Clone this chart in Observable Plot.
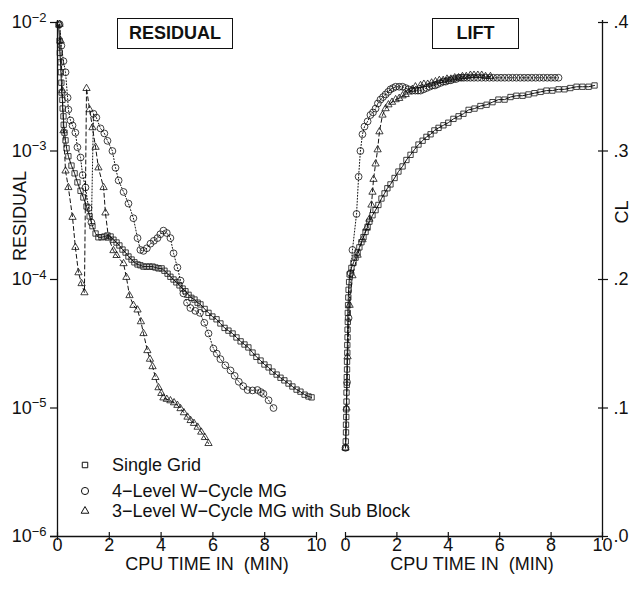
<!DOCTYPE html>
<html><head><meta charset="utf-8">
<script src="https://cdn.jsdelivr.net/npm/d3@7"></script>
<script src="https://cdn.jsdelivr.net/npm/@observablehq/plot@0.6"></script>
<style>
body{margin:0;background:#fff;}
#wrap{position:relative;width:631px;height:589px;overflow:hidden;font-family:"Liberation Sans",Arial,Helvetica,sans-serif;color:#111;}
.abs{position:absolute;}
#left{left:0;top:0;}
#right{left:330px;top:0;}
.box{border:1.4px solid #111;font-weight:bold;font-size:18px;text-align:center;line-height:29px;height:29px;background:#fff;}
.lbl{font-size:18px;white-space:pre;line-height:14px;}
.rot{transform:translate(-50%,-50%) rotate(-90deg);}
.leg{font-size:18px;white-space:pre;line-height:18px;height:18px;}
</style></head>
<body>
<div id="wrap">
  <div id="left" class="abs"></div>
  <div id="right" class="abs"></div>
  <div class="abs box" style="left:117px;top:18px;width:114px;">RESIDUAL</div>
  <div class="abs box" style="left:432px;top:18px;width:85px;">LIFT</div>
  <div class="abs lbl rot" style="left:20px;top:216px;">RESIDUAL</div>
  <div class="abs lbl rot" style="left:622px;top:212px;">CL</div>
  <div class="abs lbl" style="left:207px;top:557px;transform:translateX(-50%);">CPU TIME IN  (MIN)</div>
  <div class="abs lbl" style="left:472px;top:557px;transform:translateX(-50%);">CPU TIME IN  (MIN)</div>
  <div id="legend"></div>
</div>
<script>
// ---------- Data ----------
const xTicks = [0, 2, 4, 6, 8, 10];
const residualTicks = [1e-6, 1e-5, 1e-4, 1e-3, 1e-2];
const liftTicks = [0, 0.1, 0.2, 0.3, 0.4];
const seriesNames = ["Single Grid", "4\u2212Level W\u2212Cycle MG", "3\u2212Level W\u2212Cycle MG with Sub Block"];

// Residual panel
const sgResT = [0.04,0.08,0.09,0.12,0.13,0.15,0.16,0.19,0.2,0.23,0.24,0.27,0.31,0.35,0.42,0.54,0.66,0.77,0.89,1.0,1.12,1.24,1.35,1.47,1.58,1.7,1.81,1.93,2.05,2.16,2.28,2.39,2.51,2.63,2.74,2.86,2.97,3.09,3.2,3.32,3.44,3.55,3.67,3.78,3.9,4.02,4.13,4.25,4.36,4.48,4.59,4.71,4.83,4.94,5.06,5.17,5.29,5.41,5.52,5.68,5.83,5.98,6.14,6.29,6.45,6.6,6.76,6.91,7.07,7.22,7.37,7.53,7.68,7.84,7.99,8.15,8.3,8.46,8.61,8.76,8.92,9.07,9.23,9.38,9.54,9.69,9.81];
const sgRes = [9.6e-3,7.2e-3,5.8e-3,4.9e-3,4.1e-3,3.4e-3,2.85e-3,2.5e-3,2.14e-3,1.86e-3,1.6e-3,1.39e-3,1.21e-3,1.05e-3,9.1e-4,7.7e-4,6.7e-4,5.7e-4,4.9e-4,4.35e-4,3.7e-4,3.1e-4,2.6e-4,2.28e-4,2.13e-4,2.13e-4,2.16e-4,2.2e-4,2.16e-4,2.04e-4,1.94e-4,1.84e-4,1.71e-4,1.62e-4,1.51e-4,1.43e-4,1.36e-4,1.31e-4,1.29e-4,1.26e-4,1.26e-4,1.26e-4,1.26e-4,1.24e-4,1.22e-4,1.22e-4,1.17e-4,1.11e-4,1.05e-4,1.0e-4,9.5e-5,9.0e-5,8.5e-5,8.1e-5,7.6e-5,7.2e-5,6.98e-5,6.6e-5,6.4e-5,5.9e-5,5.5e-5,5.15e-5,4.9e-5,4.55e-5,4.2e-5,4.0e-5,3.8e-5,3.54e-5,3.3e-5,3.12e-5,2.96e-5,2.7e-5,2.5e-5,2.34e-5,2.18e-5,2.07e-5,1.92e-5,1.82e-5,1.72e-5,1.64e-5,1.55e-5,1.47e-5,1.39e-5,1.34e-5,1.27e-5,1.23e-5,1.21e-5];

const mgResT = [0.08,0.15,0.23,0.31,0.39,0.42,0.5,0.58,0.69,0.77,0.89,0.97,1.08,1.2,1.31,1.39,1.5,1.66,1.81,1.93,2.12,2.24,2.36,2.55,2.74,2.93,3.09,3.2,3.32,3.45,3.59,3.72,3.86,3.97,4.09,4.22,4.36,4.48,4.63,4.75,4.86,5.0,5.13,5.32,5.5,5.67,5.83,6.02,6.15,6.29,6.48,6.68,6.84,7.0,7.17,7.34,7.53,7.72,7.85,7.95,8.15,8.34];
const mgRes = [9.7e-3,6.6e-3,5.0e-3,4.1e-3,2.6e-3,2.1e-3,1.73e-3,1.58e-3,1.39e-3,1.07e-3,8.9e-4,6.5e-4,5.2e-4,3.6e-4,2.78e-4,1.95e-3,1.82e-3,1.5e-3,1.37e-3,1.2e-3,1.0e-3,7.4e-4,5.9e-4,4.8e-4,3.9e-4,3.0e-4,2.1e-4,1.7e-4,1.67e-4,1.75e-4,1.9e-4,2.0e-4,2.1e-4,2.25e-4,2.4e-4,2.3e-4,2.1e-4,1.6e-4,1.24e-4,9.8e-5,7.8e-5,6.6e-5,6.0e-5,5.7e-5,5.5e-5,4.6e-5,3.8e-5,2.9e-5,2.65e-5,2.4e-5,2.15e-5,1.96e-5,1.78e-5,1.6e-5,1.48e-5,1.38e-5,1.37e-5,1.38e-5,1.33e-5,1.29e-5,1.15e-5,1.0e-5];

const sbResT = [0.08,0.12,0.19,0.23,0.31,0.42,0.58,0.69,0.81,0.93,1.04,1.12,1.24,1.35,1.47,1.58,1.78,1.85,1.97,2.16,2.28,2.55,2.66,2.78,2.93,3.09,3.22,3.32,3.47,3.57,3.67,3.78,3.9,4.01,4.09,4.22,4.36,4.5,4.63,4.75,4.88,5.02,5.14,5.27,5.41,5.55,5.69,5.83];
const sbRes = [9.7e-3,7.2e-3,2.95e-3,1.44e-3,7.0e-4,5.2e-4,3.05e-4,1.78e-4,1.13e-4,9.3e-5,7.9e-5,3.07e-3,2.1e-3,1.52e-3,1.07e-3,7.4e-4,5.2e-4,3.3e-4,2.1e-4,1.68e-4,1.54e-4,1.33e-4,1.04e-4,7.5e-5,6.3e-5,5.8e-5,4.7e-5,3.8e-5,2.8e-5,2.4e-5,2.1e-5,1.73e-5,1.44e-5,1.3e-5,1.2e-5,1.17e-5,1.14e-5,1.1e-5,1.05e-5,9.9e-6,9.2e-6,8.5e-6,8.0e-6,7.6e-6,7.1e-6,6.5e-6,5.9e-6,5.3e-6];

// Lift panel
const sgLiftT = [0.0,0.01,0.02,0.02,0.03,0.03,0.04,0.04,0.05,0.05,0.06,0.06,0.07,0.07,0.08,0.08,0.09,0.09,0.1,0.11,0.12,0.14,0.16,0.23,0.31,0.39,0.47,0.54,0.62,0.7,0.78,0.86,0.93,1.05,1.17,1.28,1.4,1.52,1.63,1.75,1.91,2.06,2.22,2.37,2.53,2.68,2.84,3.0,3.15,3.31,3.46,3.62,3.81,4.0,4.2,4.4,4.59,4.79,5.02,5.25,5.49,5.72,5.95,6.19,6.42,6.65,6.89,7.12,7.35,7.59,7.82,8.05,8.29,8.52,8.75,8.99,9.22,9.46,9.69];
const sgLift = [0.069,0.074,0.081,0.087,0.093,0.099,0.105,0.112,0.118,0.124,0.130,0.136,0.143,0.149,0.155,0.161,0.167,0.174,0.180,0.186,0.192,0.198,0.204,0.209,0.213,0.217,0.221,0.225,0.229,0.233,0.237,0.241,0.245,0.250,0.254,0.258,0.263,0.267,0.271,0.274,0.279,0.284,0.288,0.293,0.297,0.301,0.305,0.308,0.311,0.313,0.316,0.318,0.320,0.322,0.325,0.327,0.329,0.332,0.333,0.335,0.336,0.338,0.340,0.340,0.342,0.343,0.343,0.344,0.345,0.346,0.347,0.347,0.348,0.348,0.349,0.350,0.350,0.350,0.351];

const mgLiftT = [0.0,0.06,0.12,0.2,0.27,0.43,0.51,0.58,0.66,0.74,0.86,0.97,1.07,1.17,1.26,1.36,1.46,1.56,1.66,1.75,1.85,1.95,2.09,2.22,2.34,2.45,2.6,2.72,2.82,2.92,3.04,3.15,3.27,3.38,3.48,3.58,3.7,3.81,3.9,4.0,4.1,4.2,4.3,4.4,4.5,4.6,4.73,4.86,5.0,5.15,5.3,5.45,5.6,5.75,5.9,6.05,6.2,6.35,6.5,6.65,6.8,6.95,7.1,7.25,7.4,7.55,7.7,7.85,8.0,8.15,8.29];
const mgLift = [0.069,0.12,0.17,0.205,0.223,0.251,0.28,0.300,0.313,0.319,0.323,0.328,0.330,0.333,0.337,0.340,0.342,0.344,0.346,0.348,0.349,0.350,0.350,0.350,0.349,0.348,0.347,0.347,0.347,0.347,0.348,0.349,0.350,0.351,0.351,0.352,0.353,0.354,0.354,0.355,0.355,0.356,0.356,0.357,0.357,0.357,0.357,0.357,0.357,0.357,0.357,0.357,0.357,0.357,0.357,0.357,0.357,0.357,0.357,0.357,0.357,0.357,0.357,0.357,0.357,0.357,0.357,0.357,0.357,0.357,0.357];

const sbLiftT = [0.0,0.04,0.08,0.16,0.27,0.47,0.66,0.82,0.93,1.01,1.05,1.09,1.17,1.25,1.32,1.44,1.56,1.67,1.81,1.95,2.09,2.22,2.34,2.45,2.6,2.72,2.92,3.05,3.2,3.35,3.5,3.65,3.8,3.95,4.1,4.25,4.4,4.55,4.7,4.86,5.0,5.15,5.3,5.45,5.64];
const sbLift = [0.069,0.10,0.14,0.18,0.203,0.219,0.231,0.24,0.247,0.258,0.268,0.278,0.290,0.301,0.315,0.328,0.333,0.336,0.338,0.340,0.341,0.343,0.344,0.346,0.348,0.350,0.351,0.352,0.352,0.353,0.354,0.355,0.355,0.356,0.356,0.357,0.357,0.358,0.358,0.359,0.359,0.359,0.359,0.358,0.358];

// ---------- Build ----------
const pts = (ts, vs) => ts.slice(0, Math.min(ts.length, vs.length)).map((t, i) => ({t, v: vs[i]}));
const ink = "#111";
const font = {fontFamily: '"Liberation Sans", Arial, Helvetica, sans-serif', fontSize: "18px", background: "transparent", overflow: "visible", color: ink};

function seriesMarks(sg, mg, sb) {
  return [
    Plot.line(sg, {x: "t", y: "v", stroke: ink, strokeWidth: 1}),
    Plot.line(mg, {x: "t", y: "v", stroke: ink, strokeWidth: 1, strokeDasharray: "1,2"}),
    Plot.line(sb, {x: "t", y: "v", stroke: ink, strokeWidth: 1, strokeDasharray: "4,3"}),
    Plot.dot(sg, {x: "t", y: "v", symbol: "square", r: 3, stroke: ink, strokeWidth: 0.8, fill: "none"}),
    Plot.dot(mg, {x: "t", y: "v", symbol: "circle", r: 3.4, stroke: ink, strokeWidth: 0.8, fill: "none"}),
    Plot.dot(sb, {x: "t", y: "v", symbol: "triangle", r: 2.7, stroke: ink, strokeWidth: 0.8, fill: "none"})
  ];
}

const left = Plot.plot({
  width: 330, height: 589, marginLeft: 57, marginRight: 14, marginTop: 22, marginBottom: 53,
  style: font,
  x: {domain: [0, 10], label: null},
  y: {type: "log", domain: [1e-6, 1e-2], label: null},
  marks: [
    Plot.ruleY([1e-6], {insetLeft: -7, stroke: ink, strokeWidth: 1.3}),
    Plot.ruleX([0], {insetTop: -2, stroke: ink, strokeWidth: 1.3}),
    Plot.axisX({ticks: xTicks, tickSize: 8, dy: -4, tickFormat: () => "", label: null, strokeWidth: 1.2}),
    Plot.axisX({ticks: xTicks, tickSize: 0, tickPadding: 2, tickFormat: d => String(d), label: null}),
    Plot.axisY({ticks: residualTicks, tickSize: 7, tickPadding: 4, tickFormat: d => "10^" + Math.round(Math.log10(d)), label: null, strokeWidth: 1.2}),
    ...seriesMarks(pts(sgResT, sgRes), pts(mgResT, mgRes), pts(sbResT, sbRes))
  ]
});

const right = Plot.plot({
  width: 301, height: 589, marginLeft: 15, marginRight: 29, marginTop: 22, marginBottom: 53,
  style: font,
  x: {domain: [0, 10], label: null},
  y: {domain: [0, 0.4], label: null},
  marks: [
    Plot.ruleY([0], {stroke: ink, strokeWidth: 1.3}),
    Plot.ruleX([10], {insetTop: -2, stroke: ink, strokeWidth: 1.3}),
    Plot.axisX({ticks: xTicks, tickSize: 8, dy: -4, tickFormat: () => "", label: null, strokeWidth: 1.2}),
    Plot.axisX({ticks: xTicks, tickSize: 0, tickPadding: 2, tickFormat: d => String(d), label: null}),
    Plot.axisY({anchor: "right", ticks: liftTicks, tickSize: 10, dx: -5, tickFormat: () => "", label: null, strokeWidth: 1.2}),
    Plot.axisY({anchor: "right", ticks: liftTicks, tickSize: 0, tickPadding: 11, tickFormat: d => "." + Math.round(d * 10), label: null}),
    ...seriesMarks(pts(sgLiftT, sgLift), pts(mgLiftT, mgLift), pts(sbLiftT, sbLift))
  ]
});

document.getElementById("left").appendChild(left);
document.getElementById("right").appendChild(right);

// superscript exponents on the residual axis labels
d3.select(left).selectAll("text").each(function() {
  const m = /^10\^(-?\d+)$/.exec(this.textContent);
  if (!m) return;
  const e = +m[1];
  const sel = d3.select(this);
  sel.text(null);
  sel.append("tspan").text("10");
  sel.append("tspan").attr("dy", "-0.5em").attr("font-size", "13px").text((e < 0 ? "\u2212" : "") + Math.abs(e));
});

// legend
const legendSymbols = ["square", "circle", "triangle"];
const legendY = [465, 491, 511];
const symPaths = {square: d3.symbol(d3.symbolSquare, 30)(), circle: d3.symbol(d3.symbolCircle, 40)(), triangle: d3.symbol(d3.symbolTriangle, 26)()};
const leg = d3.select("#legend");
seriesNames.forEach((name, i) => {
  const row = leg.append("div").attr("class", "abs").style("left", "76px").style("top", (legendY[i] - 9) + "px");
  const svg = row.append("svg").attr("width", 18).attr("height", 18).style("position", "absolute").style("left", "0px").style("top", "0px");
  svg.append("path").attr("d", symPaths[legendSymbols[i]]).attr("transform", "translate(9,9)")
    .attr("fill", "none").attr("stroke", ink).attr("stroke-width", 1);
  row.append("div").attr("class", "abs leg").style("left", "36px").style("top", "0px").text(name);
});
</script>
</body></html>
